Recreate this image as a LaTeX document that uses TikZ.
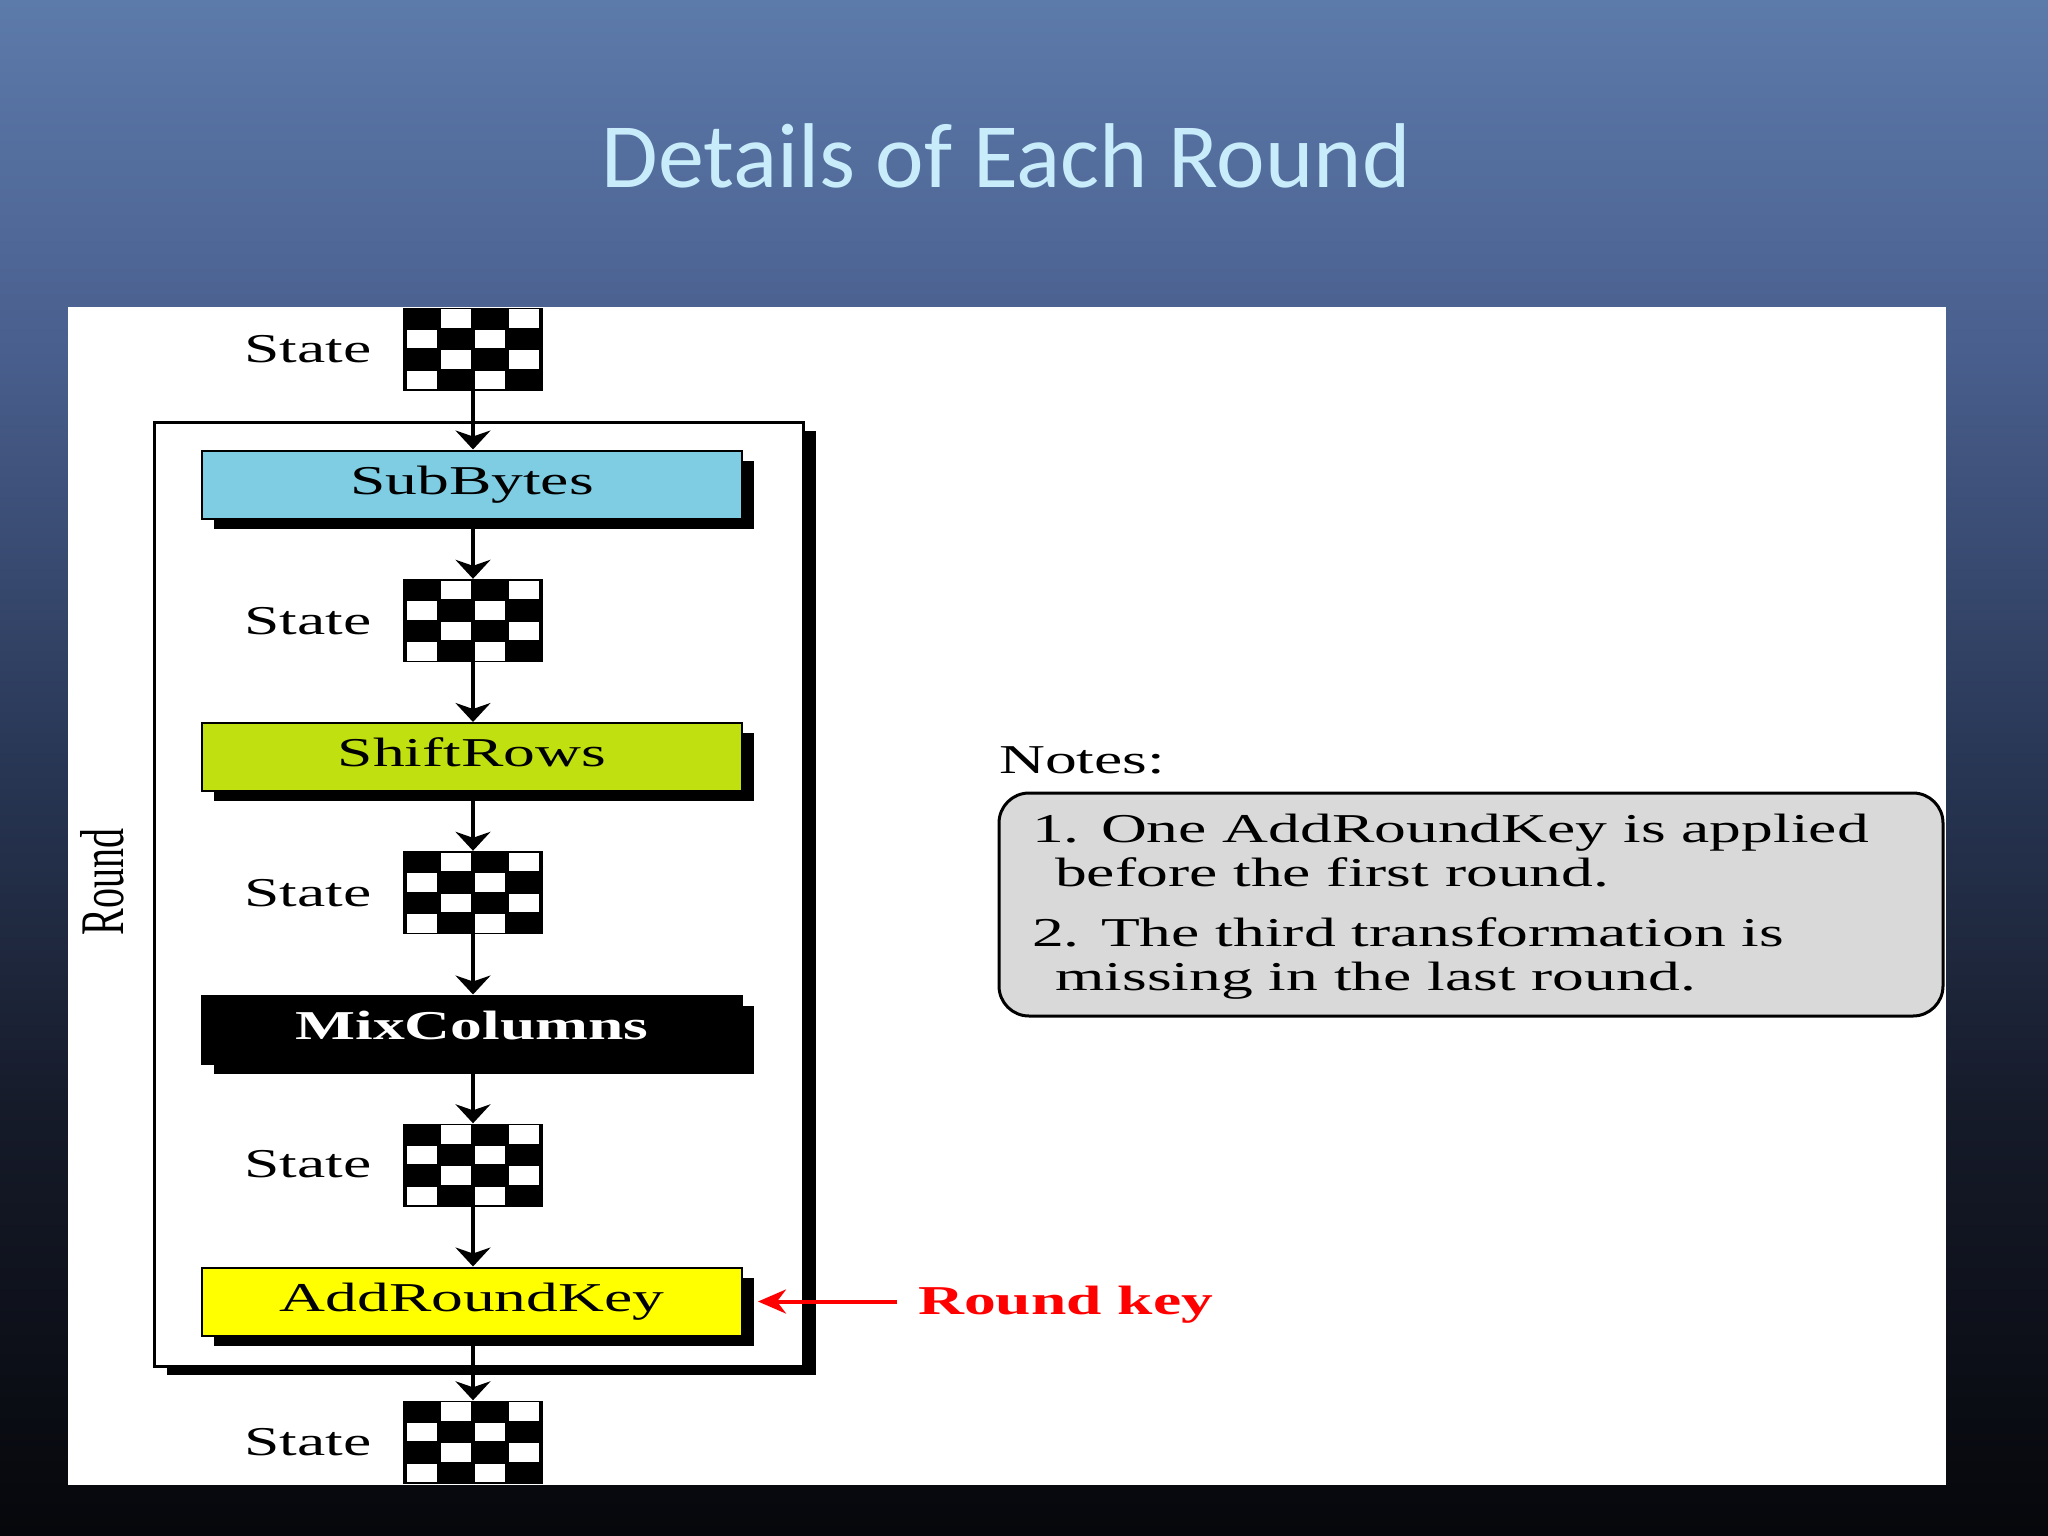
\documentclass[tikz,border=0pt]{standalone}
\usepackage{fontspec}
\setmainfont{Liberation Serif}
\newfontfamily\dfont[FakeStretch=1.55]{Liberation Serif}
\newfontfamily\tfont{Carlito}
\usetikzlibrary{arrows.meta,shadows,calc}
\definecolor{bgT}{RGB}{92,122,170}
\definecolor{bgA}{RGB}{74,96,143}
\definecolor{bgB}{RGB}{40,54,84}
\definecolor{bgC}{RGB}{22,27,42}
\definecolor{bgD}{RGB}{6,7,11}
\definecolor{titlec}{RGB}{200,236,250}
\definecolor{subc}{RGB}{127,205,227}
\definecolor{shiftc}{RGB}{192,224,16}
\definecolor{addc}{RGB}{255,255,0}
\definecolor{notec}{RGB}{217,217,217}
\definecolor{keyred}{RGB}{255,0,0}
\pgfdeclareverticalshading{bgshade}{100bp}{color(0bp)=(bgD); color(25bp)=(bgD); color(39bp)=(bgC); color(50bp)=(bgB); color(64bp)=(bgA); color(75bp)=(bgT); color(100bp)=(bgT)}
\newcommand\dsz{\fontsize{41}{48}\selectfont}
\newcommand\cboard[3]{%
  \node[cbnode] (#1) at (#2,#3) {};
  \foreach \r in {0,...,3}{\foreach \c in {0,...,3}{%
    \pgfmathtruncatemacro\odd{mod(\r+\c,2)}%
    \ifnum\odd=1
      \fill[white] ($(#1.north west)+(4+\c*34,2+\r*20.5)$) rectangle ++(30,18.5);
    \fi}}%
}
\begin{document}
\begin{tikzpicture}[x=1pt,y=-1pt,
  statelbl/.style={font=\dfont\dsz, anchor=base, inner sep=0pt},
  cbnode/.style={fill=black, draw=none, minimum width=140pt, minimum height=83pt, inner sep=0pt},
  opbox/.style={draw=black, line width=2pt, minimum width=540pt, minimum height=68pt, inner sep=0pt,
    text height=27pt, text depth=8pt, font=\dfont\dsz,
    drop shadow={shadow xshift=12pt, shadow yshift=-10pt, fill=black, opacity=1}},
  outerbox/.style={draw=black, line width=3pt, fill=white, minimum width=649pt, minimum height=944pt,
    drop shadow={shadow xshift=13pt, shadow yshift=-9pt, fill=black, opacity=1}},
  arr/.style={line width=4pt, -{Stealth[length=19pt, width=35pt, inset=6pt]}},
  redarr/.style={line width=4pt, draw=keyred, -{Stealth[length=28pt, width=24pt, inset=9pt]}},
  notebox/.style={draw=black, line width=3pt, fill=notec, rounded corners=30pt, minimum width=944pt, minimum height=223pt},
  notetxt/.style={font=\dfont\dsz, anchor=base west, inner sep=0pt}]
\useasboundingbox (0,0) rectangle (2048,1536);
% background
\shade[shading=bgshade] (0,0) rectangle (2048,1536);
\node[font=\tfont\fontsize{92}{100}\selectfont, text=titlec, anchor=base] (title) at (1006,187) {Details of Each Round};
\fill[white] (68,307) rectangle (1946,1485);
% round frame
\node[outerbox] (rbox) at (478.5,894) {};
\node[rotate=90, inner sep=0pt, font=\fontsize{40}{48}\selectfont] (rlbl) at (102,882) {\scalebox{1}[1.55]{Round}};
% operation boxes
\node[opbox, fill=subc] (sub) at (472,484.5) {SubBytes};
\node[opbox, fill=shiftc] (shift) at (472,757) {ShiftRows};
\node[opbox, fill=black, text=white, font=\dfont\dsz\bfseries] (mix) at (472,1029.5) {MixColumns};
\node[opbox, fill=addc] (add) at (472,1301.5) {AddRoundKey};
% states
\cboard{cb1}{473}{349}
\cboard{cb2}{473}{620.5}
\cboard{cb3}{473}{892.5}
\cboard{cb4}{473}{1165}
\cboard{cb5}{473}{1442}
\node[statelbl] (s1) at (308,362) {State};
\node[statelbl] (s2) at (308,634) {State};
\node[statelbl] (s3) at (308,906) {State};
\node[statelbl] (s4) at (308,1177) {State};
\node[statelbl] (s5) at (308,1455) {State};
% connectors
\draw[arr] (cb1.south) -- (cb1.south |- sub.north);
\draw[arr] (cb1.south |- sub.south) -- (cb2.north);
\draw[arr] (cb2.south) -- (cb2.south |- shift.north);
\draw[arr] (cb2.south |- shift.south) -- (cb3.north);
\draw[arr] (cb3.south) -- (cb3.south |- mix.north);
\draw[arr] (cb3.south |- mix.south) -- (cb4.north);
\draw[arr] (cb4.south) -- (cb4.south |- add.north);
\draw[arr] (cb4.south |- add.south) -- (cb5.north);
% round key
\node[font=\dfont\dsz\bfseries, text=keyred, anchor=base west, inner sep=0pt] (rk) at (918,1314) {Round key};
\draw[redarr] ([xshift=-21pt]rk.west |- add.east) -- ([xshift=15pt]add.east);
% notes
\node[notetxt] (notes) at (999,773) {Notes:};
\node[notebox] (nbox) at (1471,904.5) {};
\node[notetxt] (n1) at (1032,842) {1. One AddRoundKey is applied};
\node[notetxt] (n2) at (1055,886) {before the first round.};
\node[notetxt] (n3) at (1032,946) {2. The third transformation is};
\node[notetxt] (n4) at (1055,990) {missing in the last round.};
\end{tikzpicture}
\end{document}
